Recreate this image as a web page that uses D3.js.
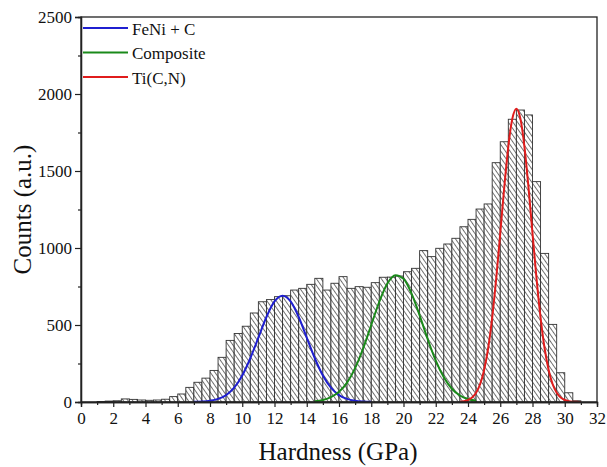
<!DOCTYPE html>
<html>
<head>
<meta charset="utf-8">
<title>Hardness histogram</title>
<script src="https://cdn.jsdelivr.net/npm/d3@7"></script>
<style>
body { margin: 0; background: #fff; }
text { font-family: "Liberation Serif", "Times New Roman", serif; fill: #111; }
</style>
</head>
<body>
<svg id="chart" width="607" height="467"></svg>
<script>

// histogram, 0.5 GPa bins (lower edge of each bin)
var binWidth = 0.5;
var binStart = [1.0, 1.5, 2.0, 2.5, 3.0, 3.5, 4.0, 4.5, 5.0, 5.5,
  6.0, 6.5, 7.0, 7.5, 8.0, 8.5, 9.0, 9.5, 10.0, 10.5,
  11.0, 11.5, 12.0, 12.5, 13.0, 13.5, 14.0, 14.5, 15.0, 15.5,
  16.0, 16.5, 17.0, 17.5, 18.0, 18.5, 19.0, 19.5, 20.0, 20.5,
  21.0, 21.5, 22.0, 22.5, 23.0, 23.5, 24.0, 24.5, 25.0, 25.5,
  26.0, 26.5, 27.0, 27.5, 28.0, 28.5, 29.0, 29.5, 30.0, 30.5];
var counts = [3, 6, 8, 20, 17, 13, 11, 13, 18, 35,
  52, 95, 128, 155, 205, 290, 400, 445, 492, 578,
  651, 665, 684, 690, 727, 738, 764, 803, 727, 771,
  814, 738, 749, 745, 775, 810, 811, 818, 846, 868,
  983, 944, 998, 1026, 1063, 1138, 1186, 1253, 1286, 1554,
  1690, 1836, 1896, 1864, 1431, 965, 504, 190, 60, 8];

// fitted peaks
var feniX = [7.0, 7.5, 8.0, 8.5, 9.0, 9.5, 10.0, 10.5, 11.0, 11.5, 12.0, 12.5,
  13.0, 13.5, 14.0, 14.5, 15.0, 15.5, 16.0, 16.5, 17.0, 17.5, 18.0];
var feniY = [1, 3, 8, 20, 45, 93, 172, 284, 418, 552, 653, 690,
  653, 552, 418, 284, 172, 93, 45, 20, 8, 3, 1];

var compX = [14.5, 15.0, 15.5, 16.0, 16.5, 17.0, 17.5, 18.0, 18.5, 19.0, 19.5,
  20.0, 20.5, 21.0, 21.5, 22.0, 22.5, 23.0, 23.5, 24.0, 24.5];
var compY = [5, 13, 31, 66, 126, 220, 349, 500, 651, 769, 823,
  800, 704, 563, 408, 268, 160, 86, 42, 19, 8];

var ticnX = [23.5, 23.75, 24.0, 24.25, 24.5, 24.75, 25.0, 25.25, 25.5, 25.75,
  26.0, 26.25, 26.5, 26.75, 27.0, 27.25, 27.5, 27.75, 28.0, 28.25,
  28.5, 28.75, 29.0, 29.25, 29.5, 29.75, 30.0, 30.25, 30.5, 30.75, 31.0];
var ticnY = [2, 5, 13, 29, 60, 115, 208, 349, 548, 802,
  1095, 1395, 1659, 1840, 1905, 1840, 1659, 1395, 1095, 802,
  548, 349, 208, 115, 60, 29, 13, 5, 2, 1, 0];

var seriesNames = ["FeNi + C", "Composite", "Ti(C,N)"];
var seriesColors = ["#1f1fd0", "#1a8a1a", "#e01c1c"];

var xMajor = [0, 2, 4, 6, 8, 10, 12, 14, 16, 18, 20, 22, 24, 26, 28, 30, 32];
var xMinor = [1, 3, 5, 7, 9, 11, 13, 15, 17, 19, 21, 23, 25, 27, 29, 31];
var yMajor = [0, 500, 1000, 1500, 2000, 2500];
var yMinor = [250, 750, 1250, 1750, 2250];

var svg = d3.select("#chart");
var pLeft = 81, pRight = 597, pTop = 17, pBottom = 402;

var x = d3.scaleLinear().domain([0, 32]).range([pLeft, pRight]);
var y = d3.scaleLinear().domain([0, 2500]).range([pBottom, pTop]);

// hatch
var defs = svg.append("defs");
var pat = defs.append("pattern")
  .attr("id", "hatch")
  .attr("patternUnits", "userSpaceOnUse")
  .attr("width", 3.8)
  .attr("height", 10)
  .attr("patternTransform", "rotate(-35)");
pat.append("rect").attr("width", 3.8).attr("height", 10).attr("fill", "#fff");
pat.append("line")
  .attr("x1", 0.5).attr("y1", 0).attr("x2", 0.5).attr("y2", 10)
  .attr("stroke", "#555").attr("stroke-width", 0.85);

var bars = binStart.map(function(b, i) { return {x0: b, x1: b + binWidth, c: counts[i]}; });

svg.append("g").selectAll("rect")
  .data(bars)
  .enter().append("rect")
    .attr("x", function(d) { return x(d.x0); })
    .attr("y", function(d) { return y(d.c); })
    .attr("width", function(d) { return x(d.x1) - x(d.x0); })
    .attr("height", function(d) { return y(0) - y(d.c); })
    .attr("fill", "url(#hatch)")
    .attr("stroke", "#333")
    .attr("stroke-width", 0.9);

// fit curves
var curves = [
  d3.zip(feniX, feniY),
  d3.zip(compX, compY),
  d3.zip(ticnX, ticnY)
];
var line = d3.line()
  .x(function(d) { return x(d[0]); })
  .y(function(d) { return y(d[1]); })
  .curve(d3.curveMonotoneX);

svg.append("g").selectAll("path")
  .data(curves)
  .enter().append("path")
    .attr("d", line)
    .attr("fill", "none")
    .attr("stroke", function(d, i) { return seriesColors[i]; })
    .attr("stroke-width", 2);

// frame
svg.append("rect")
  .attr("x", pLeft).attr("y", pTop)
  .attr("width", pRight - pLeft).attr("height", pBottom - pTop)
  .attr("fill", "none").attr("stroke", "#222").attr("stroke-width", 1.3);

// axes
var xAxis = svg.append("g").attr("transform", "translate(0," + pBottom + ")")
  .call(d3.axisBottom(x).tickValues(xMajor).tickSize(5).tickPadding(5).tickFormat(d3.format("d")));
var xAxisMinor = svg.append("g").attr("transform", "translate(0," + pBottom + ")")
  .call(d3.axisBottom(x).tickValues(xMinor).tickSize(3).tickFormat(""));
var yAxis = svg.append("g").attr("transform", "translate(" + pLeft + ",0)")
  .call(d3.axisLeft(y).tickValues(yMajor).tickSize(6).tickPadding(3).tickFormat(d3.format("d")));
var yAxisMinor = svg.append("g").attr("transform", "translate(" + pLeft + ",0)")
  .call(d3.axisLeft(y).tickValues(yMinor).tickSize(3).tickFormat(""));

[xAxis, xAxisMinor, yAxis, yAxisMinor].forEach(function(g) {
  g.select(".domain").attr("stroke", "#222").attr("stroke-width", 1.3);
  g.selectAll(".tick line").attr("stroke", "#222").attr("stroke-width", 1.2);
  g.selectAll("text")
    .style("font-family", '"Liberation Serif", "Times New Roman", serif')
    .style("font-size", "17px")
    .attr("fill", "#111");
});

// axis titles
svg.append("text")
  .attr("x", (pLeft + pRight) / 2 - 1)
  .attr("y", 460)
  .attr("text-anchor", "middle")
  .style("font-size", "25px")
  .text("Hardness (GPa)");

svg.append("text")
  .attr("transform", "translate(31," + ((pTop + pBottom) / 2) + ") rotate(-90)")
  .attr("text-anchor", "middle")
  .style("font-size", "25px")
  .text("Counts (a.u.)");

// legend
var legend = svg.append("g").selectAll("g")
  .data(seriesNames)
  .enter().append("g")
    .attr("transform", function(d, i) { return "translate(83," + (28 + i * 24.5) + ")"; });
legend.append("line")
  .attr("x1", 0).attr("x2", 45)
  .attr("stroke", function(d, i) { return seriesColors[i]; })
  .attr("stroke-width", 2);
legend.append("text")
  .attr("x", 49).attr("y", 6.5)
  .style("font-size", "17px")
  .text(function(d) { return d; });

</script>
</body>
</html>
